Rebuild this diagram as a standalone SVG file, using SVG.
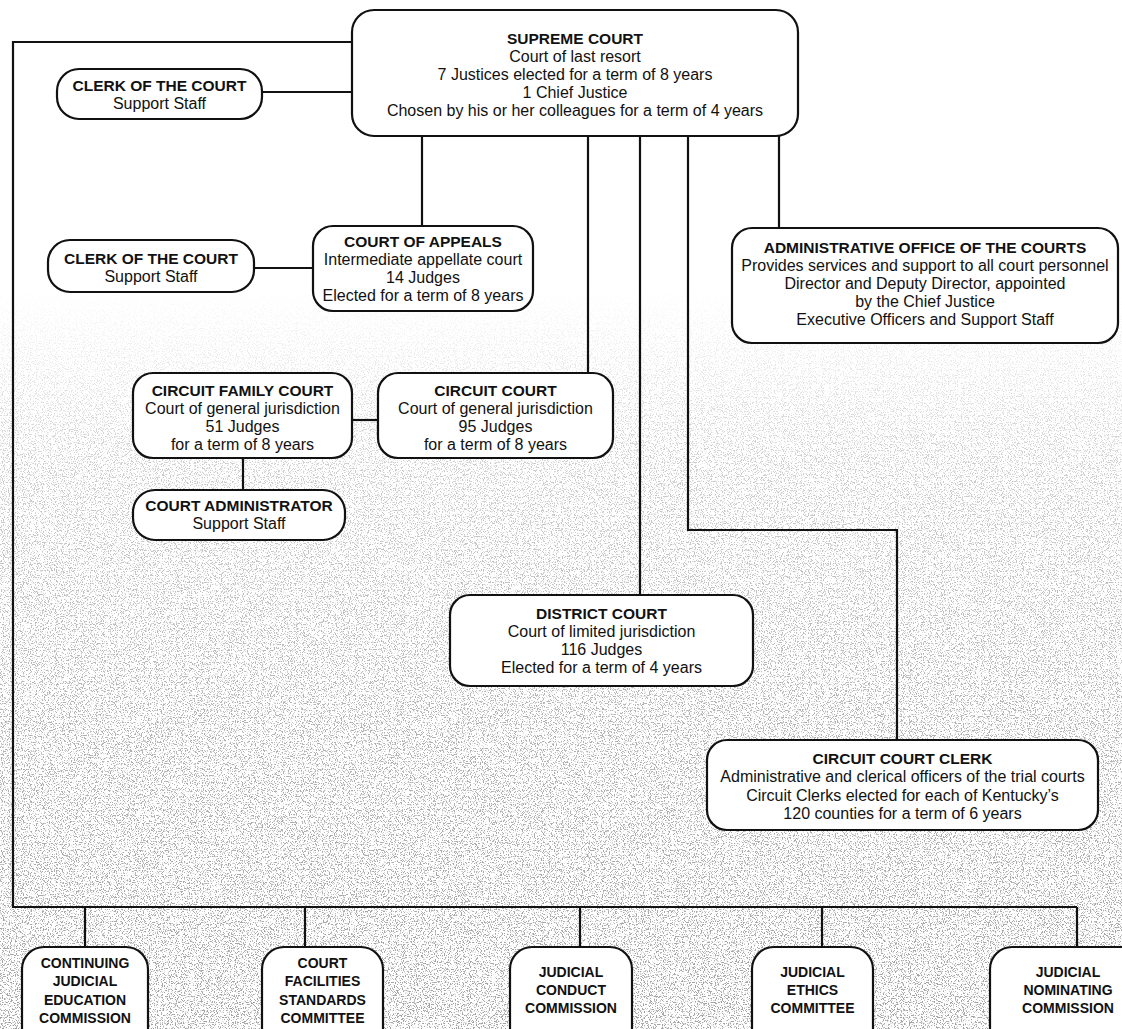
<svg xmlns="http://www.w3.org/2000/svg" width="1122" height="1029" viewBox="0 0 1122 1029">
<style>
  .box { fill: #ffffff; stroke: #111111; stroke-width: 2.2; }
  .conn { fill: none; stroke: #111111; stroke-width: 2.2; }
  .t { font-family: "Liberation Sans", Arial, sans-serif; font-size: 16px; fill: #111111; text-anchor: middle; }
  .b { font-family: "Liberation Sans", Arial, sans-serif; font-size: 15.5px; font-weight: bold; fill: #111111; text-anchor: middle; }
  .bs { font-family: "Liberation Sans", Arial, sans-serif; font-size: 14px; font-weight: bold; fill: #111111; text-anchor: middle; }
</style>
<defs>
  <filter id="grain" x="0" y="0" width="1122" height="1029" filterUnits="userSpaceOnUse">
    <feTurbulence type="fractalNoise" baseFrequency="0.85" numOctaves="2" seed="7" result="n"/>
    <feColorMatrix in="n" type="matrix" values="0 0 0 0 0.3  0 0 0 0 0.3  0 0 0 0 0.3  9 0 0 0 -4.8"/>
  </filter>
  <linearGradient id="fade" x1="0" y1="0" x2="0" y2="1">
    <stop offset="0" stop-color="#000"/>
    <stop offset="0.28" stop-color="#000"/>
    <stop offset="0.45" stop-color="#777"/>
    <stop offset="0.7" stop-color="#bbb"/>
    <stop offset="1" stop-color="#e0e0e0"/>
  </linearGradient>
  <mask id="m">
    <rect x="0" y="0" width="1122" height="1029" fill="url(#fade)"/>
  </mask>
</defs>
<rect x="0" y="0" width="1122" height="1029" fill="#ffffff"/>
<g mask="url(#m)">
  <rect x="0" y="0" width="1122" height="1029" filter="url(#grain)"/>
</g>

<g id="connectors">
  <polyline class="conn" points="352,42 13,42 13,907 1077,907"/>
  <line class="conn" x1="262" y1="92" x2="352" y2="92"/>
  <line class="conn" x1="422" y1="136" x2="422" y2="226"/>
  <line class="conn" x1="254" y1="268" x2="313" y2="268"/>
  <line class="conn" x1="588" y1="136" x2="588" y2="373"/>
  <line class="conn" x1="352" y1="420" x2="378" y2="420"/>
  <line class="conn" x1="243" y1="458" x2="243" y2="490"/>
  <line class="conn" x1="640" y1="136" x2="640" y2="595"/>
  <polyline class="conn" points="688,136 688,530 897,530 897,740"/>
  <line class="conn" x1="779" y1="136" x2="779" y2="228"/>
  <line class="conn" x1="85" y1="907" x2="85" y2="947"/>
  <line class="conn" x1="305" y1="907" x2="305" y2="947"/>
  <line class="conn" x1="580" y1="907" x2="580" y2="947"/>
  <line class="conn" x1="822" y1="907" x2="822" y2="947"/>
  <line class="conn" x1="1077" y1="907" x2="1077" y2="947"/>
</g>

<g id="supreme-court">
  <rect class="box" x="352" y="10" width="446" height="126" rx="22"/>
  <text class="b" x="575" y="43.5">SUPREME COURT</text>
  <text class="t" x="575" y="61.5">Court of last resort</text>
  <text class="t" x="575" y="79.5">7 Justices elected for a term of 8 years</text>
  <text class="t" x="575" y="97.5">1 Chief Justice</text>
  <text class="t" x="575" y="115.5">Chosen by his or her colleagues for a term of 4 years</text>
</g>

<g id="clerk-supreme">
  <rect class="box" x="57" y="69" width="205" height="50" rx="22"/>
  <text class="b" x="159.5" y="90.5">CLERK OF THE COURT</text>
  <text class="t" x="159.5" y="108.5">Support Staff</text>
</g>

<g id="court-of-appeals">
  <rect class="box" x="313" y="226" width="220" height="85" rx="20"/>
  <text class="b" x="423" y="246.5">COURT OF APPEALS</text>
  <text class="t" x="423" y="264.5">Intermediate appellate court</text>
  <text class="t" x="423" y="282.5">14 Judges</text>
  <text class="t" x="423" y="300.5">Elected for a term of 8 years</text>
</g>

<g id="clerk-appeals">
  <rect class="box" x="48" y="240" width="206" height="52" rx="22"/>
  <text class="b" x="151" y="263.5">CLERK OF THE COURT</text>
  <text class="t" x="151" y="281.5">Support Staff</text>
</g>

<g id="administrative-office">
  <rect class="box" x="732" y="228" width="386" height="115" rx="20"/>
  <text class="b" x="925" y="252.5">ADMINISTRATIVE OFFICE OF THE COURTS</text>
  <text class="t" x="925" y="270.5">Provides services and support to all court personnel</text>
  <text class="t" x="925" y="288.5">Director and Deputy Director, appointed</text>
  <text class="t" x="925" y="306.5">by the Chief Justice</text>
  <text class="t" x="925" y="324.5">Executive Officers and Support Staff</text>
</g>

<g id="circuit-family-court">
  <rect class="box" x="133" y="373" width="219" height="85" rx="20"/>
  <text class="b" x="242.5" y="395.5">CIRCUIT FAMILY COURT</text>
  <text class="t" x="242.5" y="413.5">Court of general jurisdiction</text>
  <text class="t" x="242.5" y="431.5">51 Judges</text>
  <text class="t" x="242.5" y="449.5">for a term of 8 years</text>
</g>

<g id="circuit-court">
  <rect class="box" x="378" y="373" width="235" height="85" rx="20"/>
  <text class="b" x="495.5" y="395.5">CIRCUIT COURT</text>
  <text class="t" x="495.5" y="413.5">Court of general jurisdiction</text>
  <text class="t" x="495.5" y="431.5">95 Judges</text>
  <text class="t" x="495.5" y="449.5">for a term of 8 years</text>
</g>

<g id="court-administrator">
  <rect class="box" x="133" y="490" width="212" height="50" rx="22"/>
  <text class="b" x="239" y="510.5">COURT ADMINISTRATOR</text>
  <text class="t" x="239" y="528.5">Support Staff</text>
</g>

<g id="district-court">
  <rect class="box" x="450" y="595" width="303" height="91" rx="20"/>
  <text class="b" x="601.5" y="618.5">DISTRICT COURT</text>
  <text class="t" x="601.5" y="636.5">Court of limited jurisdiction</text>
  <text class="t" x="601.5" y="654.5">116 Judges</text>
  <text class="t" x="601.5" y="672.5">Elected for a term of 4 years</text>
</g>

<g id="circuit-court-clerk">
  <rect class="box" x="707" y="740" width="391" height="90" rx="20"/>
  <text class="b" x="902.5" y="763.5">CIRCUIT COURT CLERK</text>
  <text class="t" x="902.5" y="782">Administrative and clerical officers of the trial courts</text>
  <text class="t" x="902.5" y="800.5">Circuit Clerks elected for each of Kentucky’s</text>
  <text class="t" x="902.5" y="819">120 counties for a term of 6 years</text>
</g>

<g id="continuing-judicial-education-commission">
  <rect class="box" x="22" y="947" width="126" height="110" rx="22"/>
  <text class="bs" x="85" y="967.5">CONTINUING</text>
  <text class="bs" x="85" y="986">JUDICIAL</text>
  <text class="bs" x="85" y="1004.5">EDUCATION</text>
  <text class="bs" x="85" y="1023">COMMISSION</text>
</g>

<g id="court-facilities-standards-committee">
  <rect class="box" x="262" y="947" width="121" height="110" rx="22"/>
  <text class="bs" x="322.5" y="967.5">COURT</text>
  <text class="bs" x="322.5" y="986">FACILITIES</text>
  <text class="bs" x="322.5" y="1004.5">STANDARDS</text>
  <text class="bs" x="322.5" y="1023">COMMITTEE</text>
</g>

<g id="judicial-conduct-commission">
  <rect class="box" x="510" y="947" width="122" height="110" rx="22"/>
  <text class="bs" x="571" y="977">JUDICIAL</text>
  <text class="bs" x="571" y="995">CONDUCT</text>
  <text class="bs" x="571" y="1013">COMMISSION</text>
</g>

<g id="judicial-ethics-committee">
  <rect class="box" x="752" y="947" width="121" height="110" rx="22"/>
  <text class="bs" x="812.5" y="977">JUDICIAL</text>
  <text class="bs" x="812.5" y="995">ETHICS</text>
  <text class="bs" x="812.5" y="1013">COMMITTEE</text>
</g>

<g id="judicial-nominating-commission">
  <rect class="box" x="990" y="947" width="160" height="110" rx="22"/>
  <text class="bs" x="1068" y="977">JUDICIAL</text>
  <text class="bs" x="1068" y="995">NOMINATING</text>
  <text class="bs" x="1068" y="1013">COMMISSION</text>
</g>
</svg>
